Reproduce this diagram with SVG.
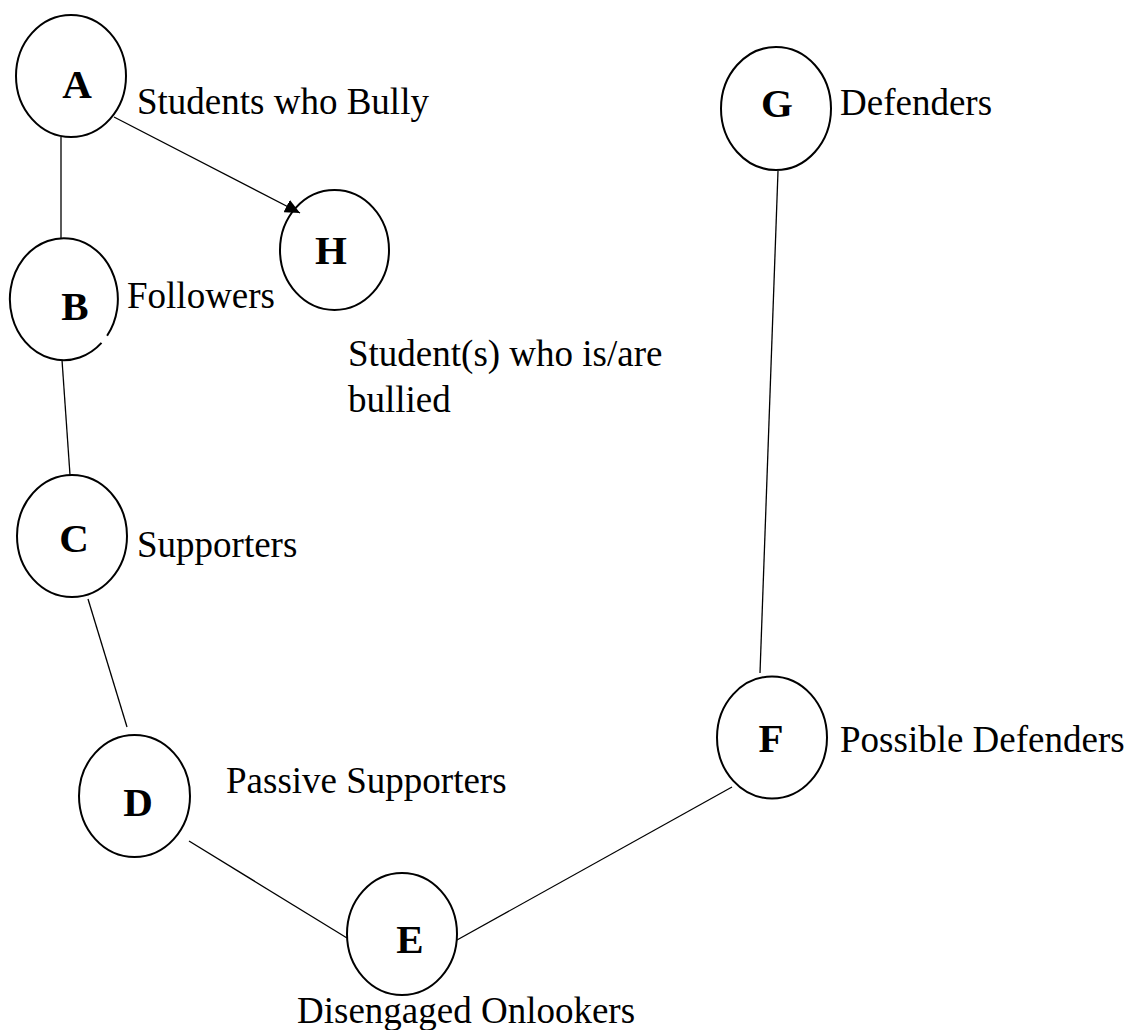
<svg xmlns="http://www.w3.org/2000/svg" width="1128" height="1030" viewBox="0 0 1128 1030">
<style>
.node{fill:none;stroke:#000;stroke-width:2}
.let{font-family:"Liberation Serif","Times New Roman",serif;font-weight:bold;font-size:41px;text-anchor:middle;fill:#000}
.lbl{font-family:"Liberation Serif","Times New Roman",serif;font-size:37px;fill:#000}
.edge{stroke:#000;stroke-width:1.3;fill:none}
</style>
<defs>
<marker id="arr" markerUnits="userSpaceOnUse" markerWidth="16" markerHeight="14" refX="15" refY="7" orient="auto">
<path d="M0,0 L15,7 L0,14 Z" fill="#000"/>
</marker>
</defs>
<rect width="1128" height="1030" fill="#fff"/>
<g id="connectors">
<line class="edge" x1="114" y1="117" x2="300" y2="213" marker-end="url(#arr)"/>
<line class="edge" x1="61" y1="137" x2="61" y2="238"/>
<line class="edge" x1="62" y1="360" x2="70" y2="475"/>
<line class="edge" x1="88" y1="599" x2="127" y2="727"/>
<line class="edge" x1="189" y1="841" x2="347" y2="938"/>
<line class="edge" x1="457" y1="940" x2="732" y2="787"/>
<line class="edge" x1="760" y1="673" x2="778" y2="171"/>
</g>
<g id="A">
<ellipse class="node" cx="71" cy="76" rx="55" ry="61"/>
<text class="let" x="77" y="98">A</text>
<text class="lbl" x="137" y="114">Students who Bully</text>
</g>
<g id="B">
<path class="node" d="M101.5,342.9 A54,61 0 1 1 107.1,335.7"/>
<text class="let" x="75" y="320">B</text>
<text class="lbl" x="127" y="308">Followers</text>
</g>
<g id="H">
<ellipse class="node" cx="334.5" cy="250" rx="54.5" ry="60"/>
<text class="let" x="331" y="264">H</text>
<text class="lbl" x="348" y="366">Student(s) who is/are</text>
<text class="lbl" x="348" y="412">bullied</text>
</g>
<g id="C">
<ellipse class="node" cx="72" cy="536" rx="55" ry="61"/>
<text class="let" x="74" y="552">C</text>
<text class="lbl" x="137" y="557">Supporters</text>
</g>
<g id="D">
<ellipse class="node" cx="134.5" cy="796" rx="55.5" ry="61"/>
<text class="let" x="138" y="816">D</text>
<text class="lbl" x="226" y="793">Passive Supporters</text>
</g>
<g id="E">
<ellipse class="node" cx="402" cy="934" rx="55" ry="61"/>
<text class="let" x="410" y="953">E</text>
<text class="lbl" x="297" y="1023">Disengaged Onlookers</text>
</g>
<g id="F">
<ellipse class="node" cx="772" cy="737.5" rx="55" ry="61"/>
<text class="let" x="771" y="752">F</text>
<text class="lbl" x="840" y="752">Possible Defenders</text>
</g>
<g id="G">
<ellipse class="node" cx="776" cy="108.5" rx="55" ry="61.5"/>
<text class="let" x="777" y="117">G</text>
<text class="lbl" x="840" y="115">Defenders</text>
</g>
</svg>
